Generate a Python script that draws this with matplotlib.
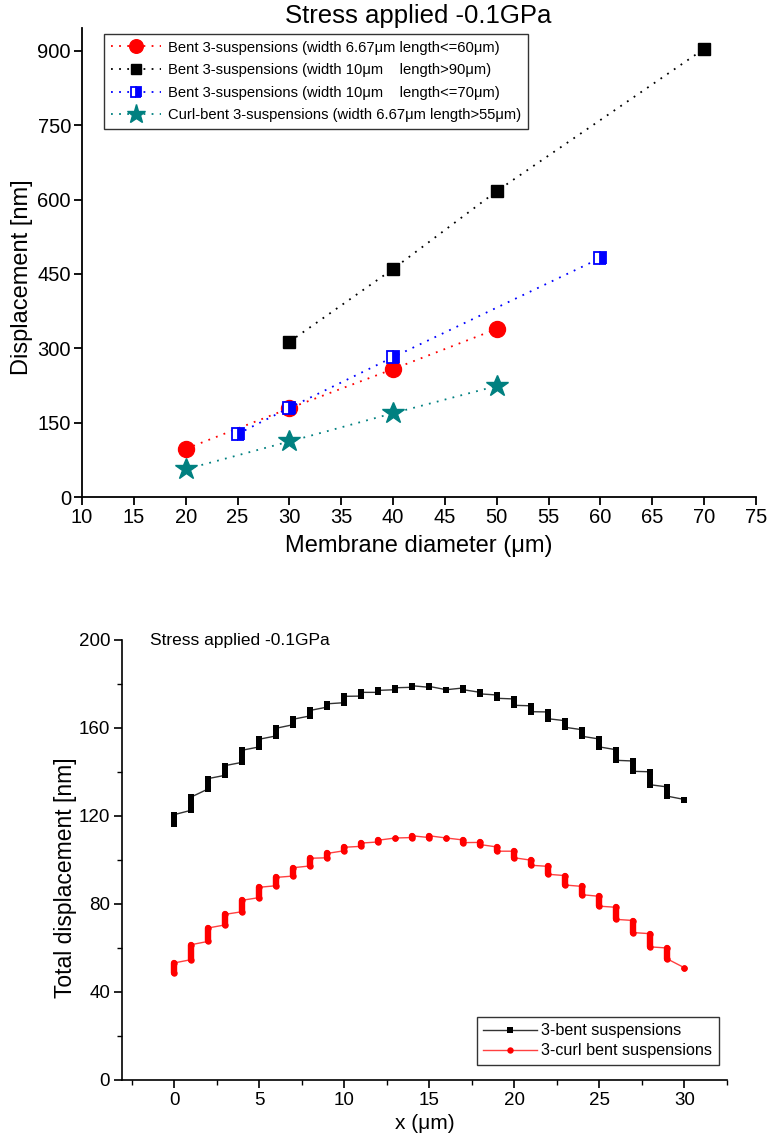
import matplotlib
matplotlib.use("Agg")
import matplotlib.pyplot as plt
import numpy as np

plt.rcParams['font.family'] = ['Liberation Sans', 'DejaVu Sans']

# ---------------- Top chart data ----------------
title_top = "Stress applied -0.1GPa"
red_x = [20, 30, 40, 50]
red_y = [97, 179, 258, 339]
black_x = [30, 40, 50, 70]
black_y = [313, 460, 617, 904]
blue_x = [25, 30, 40, 60]
blue_y = [127, 180, 282, 482]
teal_x = [20, 30, 40, 50]
teal_y = [56, 112, 169, 224]
top_labels = [
    "Bent 3-suspensions (width 6.67\u03bcm length<=60\u03bcm)",
    "Bent 3-suspensions (width 10\u03bcm    length>90\u03bcm)",
    "Bent 3-suspensions (width 10\u03bcm    length<=70\u03bcm)",
    "Curl-bent 3-suspensions (width 6.67\u03bcm length>55\u03bcm)",
]
top_xticks = list(range(10, 80, 5))
top_yticks = [0, 150, 300, 450, 600, 750, 900]

# ---------------- Bottom chart data ----------------
pos_x = list(range(0, 31))
black_first = [116.5, 122.6, 132.3, 138.5, 144.4, 151.4, 156.4, 161.5, 165.5, 169.5,
               171.5, 174.5, 176.2, 177.4, 178.5, 178.5, 177.4, 178.2, 176.2, 175.0,
               173.2, 170.1, 167.3, 163.3, 159.2, 155.0, 150.1, 145.0, 140.1, 133.2, 127.5]
black_second = [120.6, 128.6, 137.0, 142.9, 149.9, 154.9, 159.9, 164.0, 168.0, 171.0,
                174.4, 176.2, 177.1, 178.3, 179.2, 178.9, 177.4, 177.4, 175.5, 173.5,
                170.3, 167.4, 164.2, 160.3, 156.2, 151.4, 145.3, 140.3, 134.2, 129.0, 127.5]
red_first = [48.6, 54.7, 63.0, 70.5, 76.5, 82.9, 88.3, 92.7, 97.3, 101.0,
             104.2, 106.2, 108.2, 110.0, 110.2, 110.2, 110.0, 109.1, 108.0, 105.9,
             104.0, 99.9, 97.1, 92.9, 88.0, 83.5, 78.5, 72.5, 66.5, 60.0, 51.0]
red_second = [53.2, 61.5, 69.1, 75.3, 81.7, 87.6, 92.1, 96.5, 100.8, 103.0,
              105.8, 107.7, 109.0, 110.0, 111.0, 111.0, 110.0, 107.9, 107.0, 104.0,
              101.0, 97.6, 93.5, 88.6, 84.2, 79.0, 73.0, 67.0, 60.5, 55.0, 51.0]
bottom_labels = ["3-bent suspensions", "3-curl bent suspensions"]
bottom_xticks = [0, 5, 10, 15, 20, 25, 30]
bottom_yticks = [0, 40, 80, 120, 160, 200]

W, H = 767, 1137
fig = plt.figure(figsize=(W / 100, H / 100), dpi=100)

# ---------------- Top axes ----------------
ax1 = fig.add_axes([82 / W, 1 - 497 / H, (756 - 82) / W, (497 - 28) / H])
ls = (0, (1, 3.5))
ax1.plot(red_x, red_y, color='red', ls=ls, lw=1.3, marker='o', ms=11.5,
         mec='red', mfc='red', label=top_labels[0])
ax1.plot(black_x, black_y, color='black', ls=ls, lw=1.3, marker='s', ms=8.5,
         mec='black', mfc='black', label=top_labels[1])
ax1.plot(blue_x, blue_y, color='blue', ls=ls, lw=1.3, marker='s', ms=8,
         mec='blue', mfc='blue', fillstyle='right', markerfacecoloralt='white',
         mew=1.3, label=top_labels[2])
ax1.plot(teal_x, teal_y, color='#008080', ls=ls, lw=1.3, marker='*', ms=16.5,
         mec='#008080', mfc='#008080', label=top_labels[3])
ax1.set_xlim(10, 75)
ax1.set_ylim(0, 946)
ax1.set_xticks(top_xticks)
ax1.set_yticks(top_yticks)
for s in ['top', 'right']:
    ax1.spines[s].set_visible(False)
for s in ['left', 'bottom']:
    ax1.spines[s].set_linewidth(1.3)
ax1.tick_params(direction='out', length=5.5, width=1.3, labelsize=14.5, pad=2.5)
ax1.set_xlabel("Membrane diameter (\u03bcm)", fontsize=17, labelpad=6)
ax1.set_ylabel("Displacement [nm]", fontsize=17)
ax1.yaxis.set_label_coords(-0.073, 0.469)
fig.text(418 / W, 1 - 16 / H, title_top, ha='center', va='center', fontsize=18.5)
leg1 = ax1.legend(loc='upper left', bbox_to_anchor=(104 / W, 1 - 34 / H),
                  bbox_transform=fig.transFigure, frameon=True,
                  prop={'size': 10.6},
                  fancybox=False, edgecolor='black', borderpad=0.45,
                  labelspacing=0.58, handlelength=3.4, handletextpad=0.5,
                  markerscale=0.85, borderaxespad=0)
leg1.get_frame().set_linewidth(1.0)

# ---------------- Bottom axes ----------------
ax2 = fig.add_axes([122 / W, 1 - 1080 / H, (727 - 122) / W, (1080 - 640) / H])


def staircase(xs, first, second):
    px, py = [], []
    for x, a, b in zip(xs, first, second):
        px += [x, x]
        py += [a, b]
    return px, py


bx, by = staircase(pos_x, black_first, black_second)
rx, ry = staircase(pos_x, red_first, red_second)
ax2.plot(bx, by, color='#333333', lw=1.0, marker='s', ms=4.3, mec='black',
         mfc='black', mew=0, label=bottom_labels[0])
vb = ax2.vlines(pos_x, black_first, black_second, colors='black', lw=4.3)
vb.set_capstyle('butt')
ax2.plot(rx, ry, color='#ff4040', lw=1.0, marker='o', ms=4.6, mec='red',
         mfc='red', mew=0, label=bottom_labels[1])
vr = ax2.vlines(pos_x, red_first, red_second, colors='red', lw=4.6)
vr.set_capstyle('round')
ax2.set_xlim(-3.06, 32.5)
ax2.set_ylim(0, 200)
ax2.set_xticks(bottom_xticks)
ax2.set_yticks(bottom_yticks)
ax2.set_xticks(np.arange(-2.5, 33, 5), minor=True)
ax2.set_yticks(np.arange(20, 200, 40), minor=True)
for s in ['top', 'right']:
    ax2.spines[s].set_visible(False)
for s in ['left', 'bottom']:
    ax2.spines[s].set_linewidth(1.2)
ax2.tick_params(which='major', direction='out', length=6, width=1.2, labelsize=13.5, pad=2.5)
ax2.tick_params(which='minor', direction='out', length=3.5, width=1.0)
ax2.set_xlabel("x (\u03bcm)", fontsize=15, labelpad=4)
ax2.set_ylabel("Total displacement [nm]", fontsize=16.5)
ax2.yaxis.set_label_coords(-0.074, 0.459)
fig.text(150 / W, 1 - 641 / H, title_top, ha='left', va='center', fontsize=12.5)
leg2 = ax2.legend(loc='upper left', bbox_to_anchor=(477 / W, 1 - 1017 / H),
                  bbox_transform=fig.transFigure, fontsize=11.6, frameon=True,
                  fancybox=False, edgecolor='black', borderpad=0.4,
                  labelspacing=0.3, handlelength=3.3, handletextpad=0.3,
                  borderaxespad=0, markerscale=1.0)
leg2.get_frame().set_linewidth(1.0)

fig.savefig("out.png", dpi=100)
